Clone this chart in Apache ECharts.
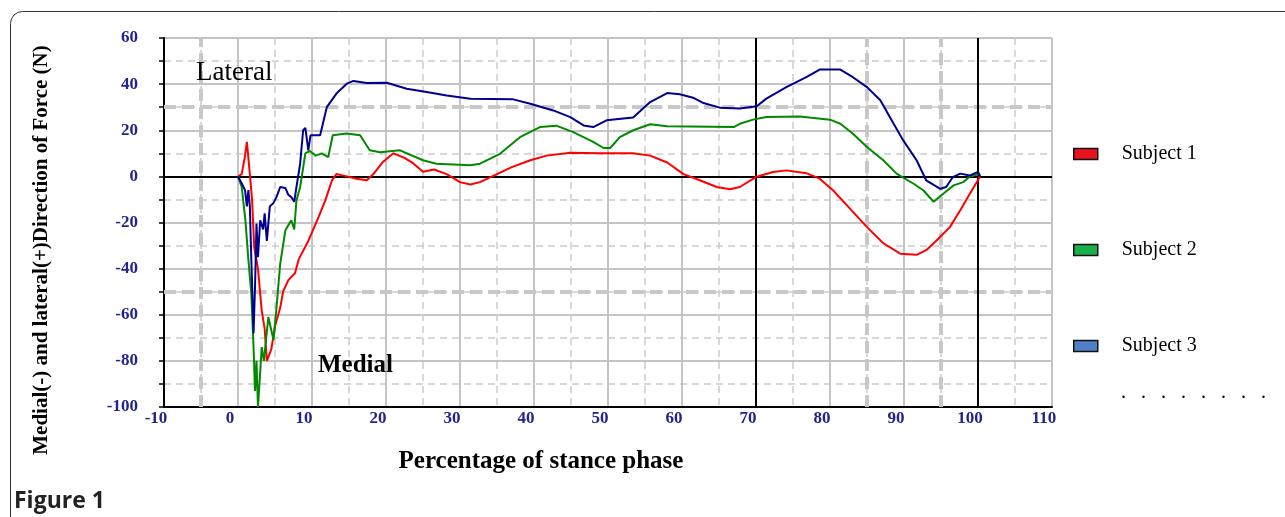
<!DOCTYPE html>
<html>
<head>
<meta charset="utf-8">
<title>Figure 1</title>
<script src="https://cdn.jsdelivr.net/npm/echarts@6/dist/echarts.min.js"></script>
<style>
  html, body { margin: 0; padding: 0; background: #fff; }
  #chart { width: 1285px; height: 517px; }
</style>
</head>
<body>
<div id="chart"></div>
<script>
// medial(-) / lateral(+) force vs. percentage of stance phase, [x, y] pairs
var subject1 = [
  [0, 0], [0.5, 1], [0.9, 8], [1.2, 15], [1.4, 8], [1.6, 1], [1.9, -10], [2.2, -31], [2.7, -40],
  [3.2, -58], [3.6, -66], [3.9, -80], [4.5, -75], [5.0, -65], [5.7, -57], [6.1, -50], [6.8, -45],
  [7.7, -42], [8.2, -36], [9.5, -28], [10.9, -17.6], [11.8, -10.4], [12.7, -1.7], [13.3, 1],
  [14.7, 0], [16, -1], [17.4, -1.7], [18.3, 1], [19.5, 6], [21, 10], [22.5, 8], [23.7, 5.6],
  [25, 2], [26.5, 3], [28.2, 1], [30, -2.5], [31.4, -3.5], [32.7, -2.5], [35, 1], [37, 4],
  [39.5, 7], [41.7, 9], [44.9, 10.2], [49, 10], [53.4, 10], [55.7, 9], [58, 6], [60.2, 1],
  [62.4, -1.7], [64.7, -4.6], [66.5, -5.6], [67.8, -4.6], [70, -0.3], [72.3, 1.9], [74.1, 2.6],
  [76.8, 1.4], [78.6, -1], [80.4, -6], [82.7, -14], [85, -22], [87.2, -29], [89.5, -33.5],
  [91.7, -34], [93, -32], [94.4, -27.8], [96.2, -22], [97.6, -14.7], [98.9, -7.5], [100.3, 0]
];
var subject2 = [
  [0, 0], [0.5, -4.6], [1, -19], [1.4, -36], [1.8, -51], [2.1, -74], [2.3, -93], [2.5, -80],
  [2.7, -100], [3.0, -85], [3.2, -74], [3.5, -80], [4.1, -61], [4.8, -71], [5.2, -57], [5.7, -38],
  [6.4, -23.4], [7.2, -19], [7.6, -23], [7.9, -10.4], [8.4, -4.6], [9.1, 10], [9.7, 11], [10.5, 9],
  [11.3, 10], [12.2, 8.4], [12.8, 17.8], [14.7, 18.6], [16.5, 17.8], [17.8, 11.3], [19.2, 10.5],
  [21.9, 11.3], [25, 7], [26.8, 5.5], [31.4, 4.8], [32.7, 5.5], [35.4, 9.8], [38.1, 17],
  [40.8, 21.4], [43, 22], [45.3, 19.2], [48, 15], [49.4, 12.3], [50.3, 12.3], [51.6, 17],
  [53.4, 20], [55.7, 22.6], [58, 21.7], [67, 21.4], [67.8, 22.8], [69.6, 24.6], [71.4, 25.7],
  [75.9, 26], [80, 24.6], [81.4, 22.8], [83.1, 18.5], [85, 12.7], [87.2, 7], [89, 1.2],
  [91.3, -3.2], [92.6, -6], [94, -11], [95.3, -7.5], [96.7, -3.9], [98, -2.5], [98.9, 0], [100.3, 1]
];
var subject3 = [
  [0, 0], [0.5, -3], [0.95, -6], [1.2, -13], [1.4, -6], [1.6, -13], [1.8, -36], [2.1, -68],
  [2.3, -48], [2.5, -20.5], [2.7, -35], [3, -19], [3.4, -23], [3.6, -16], [3.9, -28], [4.3, -13],
  [4.8, -11.5], [5.2, -9], [5.7, -4.6], [6.4, -5], [6.8, -8], [7.2, -9], [7.6, -11], [7.9, -4.6],
  [8.4, 5.5], [8.8, 20], [9.1, 21], [9.5, 11.3], [9.8, 17.8], [11.1, 17.8], [12, 30], [13.3, 35.9],
  [14.7, 40.2], [15.6, 41.4], [17.4, 40.5], [20.1, 40.6], [22.8, 38], [25.5, 36.6], [28.2, 35.1],
  [31.4, 33.7], [37.2, 33.4], [39.5, 31.5], [42.6, 28.6], [44.9, 25.7], [46.7, 22.1], [48, 21.4],
  [49.8, 24.3], [53.4, 25.5], [55.7, 32.2], [58, 36.1], [59.7, 35.6], [61.5, 34.1], [62.9, 31.8],
  [65.1, 29.8], [67.8, 29.4], [70.1, 30.4], [71.4, 33.7], [74.1, 38.7], [76.8, 43], [78.6, 46.3],
  [81.4, 46.3], [83.1, 43], [85, 38.7], [86.8, 33], [88.6, 22.8], [89.9, 15.6], [91.7, 7],
  [93, -1.7], [94.9, -5.4], [95.7, -4.6], [96.6, -0.3], [97.6, 1.2], [98.9, 0.4], [100, 1.9], [100.3, 0]
];
var seriesNames = ['Subject 1', 'Subject 2', 'Subject 3'];
var refLinesX = [70, 100];
var heavyGridX = [-5, 85, 95];
var heavyGridY = [30, -50];

var labelColor = '#23238e';
var serif = '"Liberation Serif", "DejaVu Serif", serif';

var myChart = echarts.init(document.getElementById('chart'));

var gridSolid = { color: '#c4c4c4', width: 2 };
var gridDash = { color: '#cbcbcb', width: 1.5, type: [7, 5] };

var heavyData = [];
heavyGridX.forEach(function (v) { heavyData.push({ xAxis: v }); });
heavyGridY.forEach(function (v) { heavyData.push({ yAxis: v }); });

var option = {
  backgroundColor: '#fff',
  animation: false,
  grid: { left: 164, right: 233, top: 38, bottom: 110, containLabel: false, outerBoundsMode: 'none' },
  legend: {
    orient: 'vertical',
    left: 1073,
    top: 144,
    icon: 'rect',
    itemWidth: 24,
    itemHeight: 11,
    itemGap: 76,
    padding: 0,
    textStyle: { fontFamily: serif, fontSize: 20, color: '#000', padding: [0, 0, 0, 19] },
    data: [
      { name: seriesNames[0], itemStyle: { color: '#e8141c', borderColor: '#111', borderWidth: 1.5 } },
      { name: seriesNames[1], itemStyle: { color: '#19b04b', borderColor: '#111', borderWidth: 1.5 } },
      { name: seriesNames[2], itemStyle: { color: '#4f81c7', borderColor: '#111', borderWidth: 1.5 } }
    ]
  },
  xAxis: {
    type: 'value',
    min: -10,
    max: 110,
    interval: 10,
    axisLine: { onZero: false, lineStyle: { color: '#000', width: 2 } },
    axisTick: { show: false },
    axisLabel: { color: labelColor, fontFamily: serif, fontWeight: 'bold', fontSize: 17, margin: 3, padding: [0, 16, 0, 0] },
    splitLine: { show: true, lineStyle: gridSolid },
    minorTick: { show: false, splitNumber: 2 },
    minorSplitLine: { show: true, lineStyle: gridDash }
  },
  yAxis: {
    type: 'value',
    min: -100,
    max: 60,
    interval: 20,
    axisLine: { show: true, onZero: false, lineStyle: { color: '#000', width: 2 } },
    axisTick: { show: true, length: 5, lineStyle: { color: '#000', width: 1.5 } },
    minorTick: { show: true, splitNumber: 2, length: 5, lineStyle: { color: '#000', width: 1.5 } },
    axisLabel: { color: labelColor, fontFamily: serif, fontWeight: 'bold', fontSize: 17, margin: 26 },
    splitLine: { show: true, lineStyle: gridSolid },
    minorSplitLine: { show: true, lineStyle: gridDash }
  },
  graphic: [
    {
      type: 'rect', silent: true, z: 100,
      shape: { x: 10.5, y: 11.5, width: 1300, height: 530, r: [12, 0, 0, 0] },
      style: { fill: 'none', stroke: '#333', lineWidth: 1 }
    },
    {
      type: 'text', x: 42, y: 250, rotation: Math.PI / 2, z: 100,
      style: { text: 'Medial(-) and lateral(+)Direction of Force (N)', fontFamily: serif, fontWeight: 'bold', fontSize: 21,
        fill: '#000', align: 'center', verticalAlign: 'middle', textAlign: 'center', textVerticalAlign: 'middle' }
    },
    {
      type: 'text', x: 541, y: 462, z: 100,
      style: { text: 'Percentage of stance phase', fontFamily: serif, fontWeight: 'bold', fontSize: 25,
        fill: '#000', align: 'center', verticalAlign: 'middle', textAlign: 'center', textVerticalAlign: 'middle' }
    },
    {
      type: 'text', x: 196, y: 73, z: 100,
      style: { text: 'Lateral', fontFamily: serif, fontSize: 27, fill: '#000',
        align: 'left', verticalAlign: 'middle', textAlign: 'left', textVerticalAlign: 'middle' }
    },
    {
      type: 'text', x: 318, y: 366, z: 100,
      style: { text: 'Medial', fontFamily: serif, fontWeight: 'bold', fontSize: 25, fill: '#000',
        align: 'left', verticalAlign: 'middle', textAlign: 'left', textVerticalAlign: 'middle' }
    },
    {
      type: 'text', x: 1121, y: 393, z: 100,
      style: { text: '.   .   .   .   .   .   .   .', fontFamily: serif, fontSize: 20, fill: '#000',
        align: 'left', verticalAlign: 'middle', textAlign: 'left', textVerticalAlign: 'middle' }
    },
    {
      type: 'text', x: 14, y: 501, z: 100,
      style: { text: 'Figure 1', fontFamily: '"Open Sans", "Liberation Sans", sans-serif', fontWeight: 'bold', fontSize: 23,
        fill: '#222', align: 'left', verticalAlign: 'middle', textAlign: 'left', textVerticalAlign: 'middle' }
    }
  ],
  series: [
    {
      name: 'heavy grid',
      type: 'line',
      data: [],
      silent: true,
      z: 1,
      markLine: {
        silent: true,
        z: 1,
        symbol: 'none',
        label: { show: false },
        lineStyle: { color: '#c8c8c8', width: 4, type: [12, 6] },
        data: heavyData
      }
    },
    {
      name: seriesNames[0],
      type: 'line',
      data: subject1,
      showSymbol: false,
      lineStyle: { color: '#ff0000', width: 2 },
      itemStyle: { color: '#ff0000' },
      z: 3,
      markLine: {
        silent: true,
        z: 2,
        symbol: 'none',
        label: { show: false },
        lineStyle: { color: '#000', width: 2, type: 'solid' },
        data: [{ xAxis: refLinesX[0] }, { xAxis: refLinesX[1] }, { yAxis: 0 }]
      }
    },
    {
      name: seriesNames[1],
      type: 'line',
      data: subject2,
      showSymbol: false,
      lineStyle: { color: '#008a00', width: 2 },
      itemStyle: { color: '#008a00' },
      z: 3
    },
    {
      name: seriesNames[2],
      type: 'line',
      data: subject3,
      showSymbol: false,
      lineStyle: { color: '#000090', width: 2 },
      itemStyle: { color: '#000090' },
      z: 3
    }
  ]
};

myChart.setOption(option);
</script>
</body>
</html>
